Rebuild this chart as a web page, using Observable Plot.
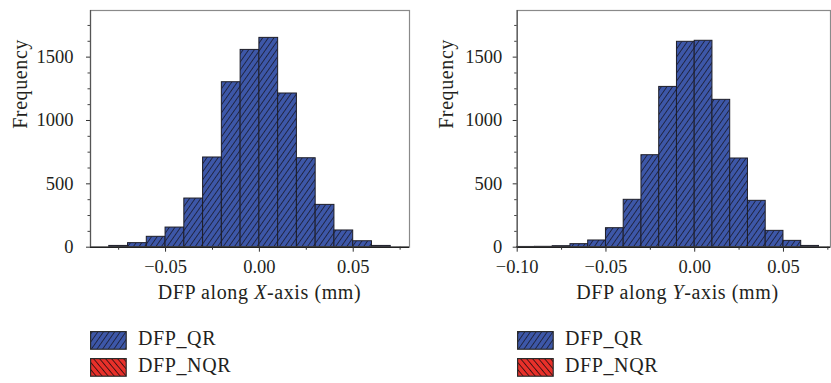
<!DOCTYPE html>
<html>
<head>
<meta charset="utf-8">
<script src="https://cdn.jsdelivr.net/npm/d3@7"></script>
<script src="https://cdn.jsdelivr.net/npm/@observablehq/plot@0.6"></script>
<style>
  html, body { margin: 0; padding: 0; background: #fff; }
  #wrap { position: relative; width: 831px; height: 383px; overflow: hidden; font-family: "Liberation Serif", "Times New Roman", Tinos, Times, serif; color: #231f20; }
  .panel { position: absolute; top: 0; }
  .legend { position: absolute; font-size: 20px; letter-spacing: 0.6px; }
  .legend .row { position: absolute; left: 0; white-space: nowrap; }
  .legend svg { position: absolute; left: 0; top: 0; }
  .legend span { position: absolute; top: -4px; }
</style>
</head>
<body>
<svg width="0" height="0" style="position:absolute">
  <defs>
    <pattern id="hatchBlue" patternUnits="userSpaceOnUse" width="4.6" height="10" patternTransform="rotate(35)">
      <rect width="4.6" height="10" fill="#3d57a8"></rect>
      <line x1="2.3" y1="0" x2="2.3" y2="10" stroke="#1b1d33" stroke-width="0.85"></line>
    </pattern>
    <pattern id="hatchRed" patternUnits="userSpaceOnUse" width="4.6" height="10" patternTransform="rotate(-40)">
      <rect width="4.6" height="10" fill="#e8302a"></rect>
      <line x1="2.3" y1="0" x2="2.3" y2="10" stroke="#2a1010" stroke-width="0.85"></line>
    </pattern>
  </defs>
</svg>
<div id="wrap"></div>
<script>
// ---- data ----
const binWidth = 0.01;
const binLowX = [-0.08, -0.07, -0.06, -0.05, -0.04, -0.03, -0.02, -0.01, 0.00, 0.01, 0.02, 0.03, 0.04, 0.05, 0.06];
const countX  = [10, 32, 82, 155, 384, 708, 1302, 1557, 1652, 1213, 702, 334, 132, 47, 10];
const binLowY = [-0.10, -0.09, -0.08, -0.07, -0.06, -0.05, -0.04, -0.03, -0.02, -0.01, 0.00, 0.01, 0.02, 0.03, 0.04, 0.05, 0.06];
const countY  = [2, 3, 8, 24, 53, 150, 374, 726, 1265, 1621, 1629, 1163, 700, 366, 129, 50, 10];

const xTickLabelsLeft  = [-0.05, 0.00, 0.05];
const xTickLabelsRight = [-0.10, -0.05, 0.00, 0.05];
const xMinorLeft  = [-0.075, -0.025, 0.025, 0.075];
const xMinorRight = [-0.075, -0.025, 0.025, 0.075];
const yTickLabels = [0, 500, 1000, 1500];
const yMinor = [125, 250, 375, 625, 750, 875, 1125, 1250, 1375, 1625, 1750];

const yLabel = "Frequency";
const xLabelLeft  = ["DFP along ", "X", "-axis (mm)"];
const xLabelRight = ["DFP along ", "Y", "-axis (mm)"];
const legendNames = ["DFP_QR", "DFP_NQR"];
const legendFills = ["url(#hatchBlue)", "url(#hatchRed)"];

const FONT = "'Liberation Serif', 'Times New Roman', Tinos, Times, serif";

function makePanel(binLow, counts, opts) {
  const data = binLow.map((lo, i) => ({lo, hi: lo + binWidth, n: counts[i]}));
  const fmt = d3.format(".2f");
  const plot = Plot.plot({
    width: opts.width,
    height: 315,
    marginLeft: opts.marginLeft,
    marginRight: opts.marginRight,
    marginTop: 10,
    marginBottom: 315 - 246.7,
    style: {fontFamily: FONT, fontSize: "18.5px", color: "#231f20", background: "white", overflow: "visible"},
    x: {domain: opts.xDomain},
    y: {domain: [0, 1868]},
    marks: [
      Plot.rectY(data, {x1: "lo", x2: "hi", y: "n", fill: "url(#hatchBlue)", stroke: "#1e1e28", strokeWidth: 1}),
      Plot.frame({stroke: "#8a8a8a", strokeWidth: 1.2}),
      Plot.ruleX([opts.xDomain[0]], {stroke: "#555", strokeWidth: 1.2}),
      Plot.ruleY([0], {stroke: "#222", strokeWidth: 1.4}),
      Plot.axisX(opts.minor, {tickSize: 3, tickFormat: () => "", label: null, stroke: "#333"}),
      Plot.axisX(opts.major, {tickSize: 5, tickPadding: 8, tickFormat: fmt, label: null, stroke: "#333"}),
      Plot.axisY(yMinor, {tickSize: 2.5, tickFormat: () => "", label: null, stroke: "#444"}),
      Plot.axisY(yTickLabels, {tickSize: 4, tickPadding: opts.yPad, tickFormat: d3.format("d"), label: null, stroke: "#333"}),
      Plot.text([yLabel], {frameAnchor: "left", dx: opts.yLabelX - opts.marginLeft, rotate: -90, fontSize: 20, text: d => d, fill: "#231f20"}),
      Plot.text([opts.xLabel.join("")], {frameAnchor: "bottom", dx: opts.xLabelDx, dy: 52, fontSize: 20, text: d => d, fill: "#231f20"})
    ]
  });
  // italic axis letter
  const full = opts.xLabel.join("");
  plot.querySelectorAll("text").forEach(t => {
    if (t.textContent === full) {
      t.textContent = "";
      t.setAttribute("letter-spacing", "0.6");
      opts.xLabel.forEach((part, i) => {
        const ts = document.createElementNS("http://www.w3.org/2000/svg", "tspan");
        ts.textContent = part;
        if (i === 1) ts.setAttribute("font-style", "italic");
        t.appendChild(ts);
      });
    }
    if (t.textContent === yLabel) t.setAttribute("letter-spacing", "0.6");
  });
  return plot;
}

const wrap = document.getElementById("wrap");

const left = makePanel(binLowX, countX, {
  width: 416, marginLeft: 90, marginRight: 7, xDomain: [-0.09, 0.08],
  major: xTickLabelsLeft, minor: xMinorLeft, yPad: 13, yLabelX: 20,
  xLabel: xLabelLeft, xLabelDx: 9.5
});
const right = makePanel(binLowY, countY, {
  width: 415, marginLeft: 100.7, marginRight: 1, xDomain: [-0.10, 0.0765],
  major: xTickLabelsRight, minor: xMinorRight, yPad: 11, yLabelX: 29.7,
  xLabel: xLabelRight, xLabelDx: 3.6
});

const pl = document.createElement("div"); pl.className = "panel"; pl.style.left = "0px"; pl.appendChild(left);
const pr = document.createElement("div"); pr.className = "panel"; pr.style.left = "416px"; pr.appendChild(right);
wrap.appendChild(pl); wrap.appendChild(pr);

function makeLegend(x) {
  const lg = document.createElement("div");
  lg.className = "legend";
  lg.style.left = x + "px";
  lg.style.top = "331px";
  legendNames.forEach((name, i) => {
    const row = document.createElement("div");
    row.className = "row";
    row.style.top = (i * 27) + "px";
    row.innerHTML = `<svg width="37" height="19"><rect x="0.6" y="0.6" width="35.6" height="17.6" fill="${legendFills[i]}" stroke="#2b2b2b" stroke-width="1.2"></rect></svg><span style="left:48px">${name}</span>`;
    lg.appendChild(row);
  });
  wrap.appendChild(lg);
}
makeLegend(90);
makeLegend(517);
</script>
</body>
</html>
